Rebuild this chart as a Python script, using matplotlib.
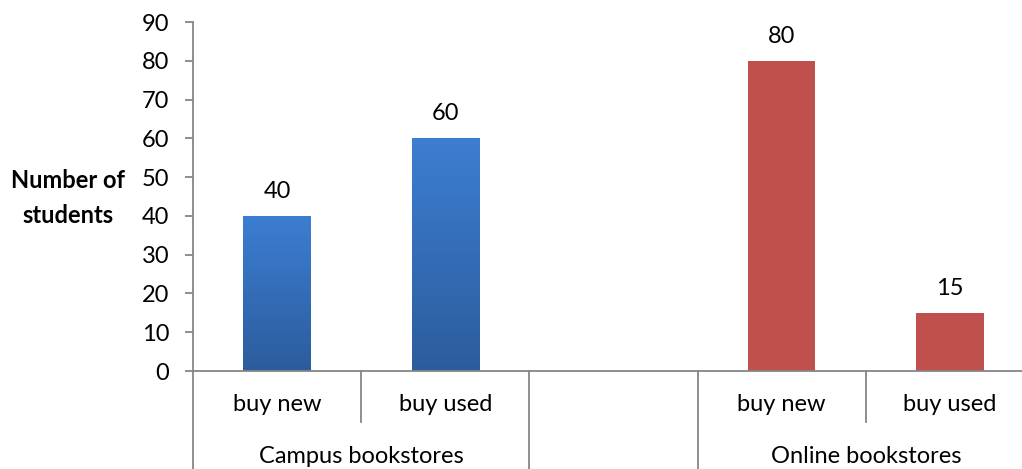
import matplotlib
matplotlib.use('Agg')
import matplotlib.pyplot as plt
from matplotlib.colors import LinearSegmentedColormap
import numpy as np

plt.rcParams['font.family'] = ['Lato', 'DejaVu Sans']

# chart data
groups = ['Campus bookstores', '', 'Online bookstores']
group_sizes = [2, 1, 2]
sub_labels = ['buy new', 'buy used', '', 'buy new', 'buy used']
campus_values = [40, 60]
online_values = [80, 15]
y_ticks = [0, 10, 20, 30, 40, 50, 60, 70, 80, 90]

axis_grey = '#868686'
blue_top = '#3C7ED2'
blue_bottom = '#2C5C9C'
red = '#C0504D'

fig = plt.figure(figsize=(10.22, 4.69), dpi=100)
ax = fig.add_axes([193/1022, 98/469, 841/1022, 349/469])

campus_x = np.arange(len(campus_values))
online_x = np.arange(len(online_values)) + 3
campus_bars = ax.bar(campus_x, campus_values, width=0.4, color='none', zorder=2)
online_bars = ax.bar(online_x, online_values, width=0.4, color=red, zorder=2)

# vertical blue gradient for the campus bars
cmap = LinearSegmentedColormap.from_list('bluegrad', [blue_bottom, blue_top])
grad = np.linspace(0, 1, 256).reshape(-1, 1)
for b in campus_bars:
    im = ax.imshow(grad, cmap=cmap, origin='lower', aspect='auto',
                   extent=[b.get_x(), b.get_x() + b.get_width(), 0, b.get_height()],
                   zorder=2)
    im.set_clip_path(b)

# value labels
for bars, vals in [(campus_bars, campus_values), (online_bars, online_values)]:
    for b, v in zip(bars, vals):
        ax.annotate(str(v), (b.get_x() + b.get_width()/2, v), xytext=(0, 10),
                    textcoords='offset points', ha='center', va='bottom',
                    fontsize=17)

ax.set_xlim(-0.5, len(sub_labels) - 0.5)
ax.set_ylim(0, 90)
ax.set_yticks(y_ticks)
ax.tick_params(axis='y', length=6, width=1.3, color=axis_grey, labelsize=17, pad=11)
ax.set_xticks([])

for s in ['top', 'right']:
    ax.spines[s].set_visible(False)
for s in ['left', 'bottom']:
    ax.spines[s].set_color(axis_grey)
    ax.spines[s].set_linewidth(1.3)

# category labels and dividers below the axis
trans = ax.get_xaxis_transform()
for i, lab in enumerate(sub_labels):
    ax.text(i, -0.095, lab, transform=trans, ha='center', va='center', fontsize=17)

bounds = np.concatenate([[0], np.cumsum(group_sizes)]) - 0.5
for i in range(len(sub_labels) + 1):
    xpos = i - 0.5
    if xpos in bounds:
        ymin = -0.3
    else:
        ymin = -0.147
    ax.plot([xpos, xpos], [0, ymin], transform=trans, color=axis_grey,
            lw=1.3, clip_on=False)

for g, lo, hi in zip(groups, bounds[:-1], bounds[1:]):
    ax.text((lo + hi)/2, -0.245, g, transform=trans, ha='center', va='center',
            fontsize=17)

fig.text(68/1022, 1 - 198/469, 'Number of\nstudents', ha='center', va='center',
         fontsize=17, fontweight='bold', linespacing=1.6)

fig.savefig('out.png', dpi=100)
